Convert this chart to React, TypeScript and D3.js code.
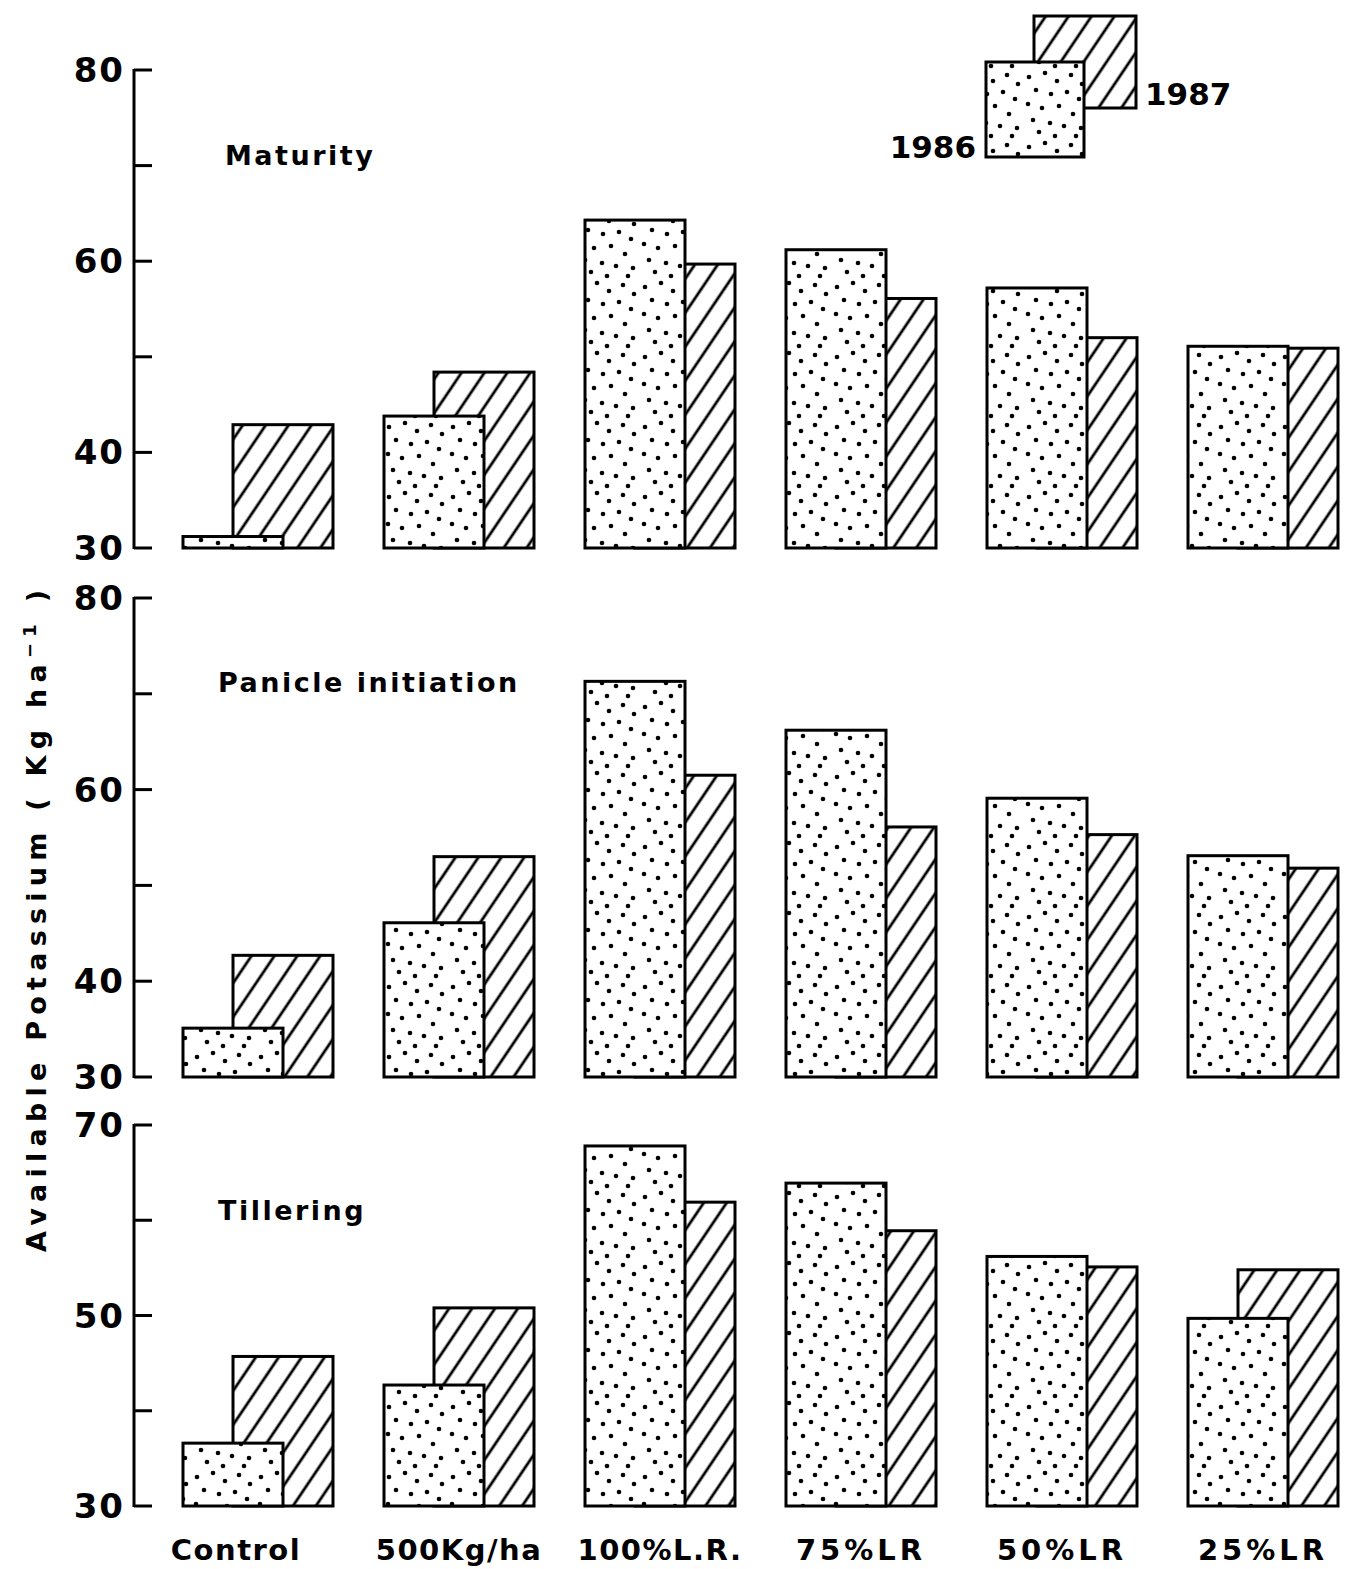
import React from "react";
import * as d3 from "d3";

// categories and values (Kg ha-1)
const categories = ["Control", "500Kg/ha", "100%L.R.", "75%LR", "50%LR", "25%LR"];
const maturity1986 = [31.2, 43.8, 64.3, 61.2, 57.2, 51.1];
const maturity1987 = [42.9, 48.4, 59.7, 56.1, 52.0, 50.9];
const panicle1986 = [35.1, 46.1, 71.3, 66.2, 59.1, 53.1];
const panicle1987 = [42.7, 53.0, 61.5, 56.1, 55.3, 51.8];
const tillering1986 = [36.6, 42.7, 67.8, 63.9, 56.2, 49.7];
const tillering1987 = [45.7, 50.8, 61.9, 58.9, 55.1, 54.8];

const maturityTicks = [30, 40, 50, 60, 70, 80];
const maturityLabels = [30, 40, 60, 80];
const panicleTicks = [30, 40, 50, 60, 70, 80];
const panicleLabels = [30, 40, 60, 80];
const tilleringTicks = [30, 40, 50, 60, 70];
const tilleringLabels = [30, 50, 70];

const years = ["1986", "1987"];

// fixed dot positions inside one texture tile (stipple look)
const dotTile = [
  [5, 7], [21, 3], [33, 11], [47, 5], [58, 14], [12, 20], [27, 24], [43, 22],
  [55, 29], [4, 34], [18, 38], [35, 36], [49, 44], [9, 50], [26, 53], [40, 56],
  [57, 58], [15, 62], [31, 66], [52, 66],
];

const W = 1349;
const H = 1569;
const axisX = 134;
const font = "'DejaVu Sans', Verdana, sans-serif";

const x = d3.scaleBand<string>()
  .domain(categories)
  .range([183, 1338])
  .paddingInner(51 / 201)
  .paddingOuter(0);
const half = x.bandwidth() / 3;
const barW = (x.bandwidth() * 2) / 3;

const panels = [
  { title: "Maturity", titleX: 225, titleY: 165, d86: maturity1986, d87: maturity1987,
    domain: [30, 80], range: [548, 70], ticks: maturityTicks, labels: maturityLabels },
  { title: "Panicle initiation", titleX: 218, titleY: 692, d86: panicle1986, d87: panicle1987,
    domain: [30, 80], range: [1077, 598], ticks: panicleTicks, labels: panicleLabels },
  { title: "Tillering", titleX: 218, titleY: 1220, d86: tillering1986, d87: tillering1987,
    domain: [30, 70], range: [1506, 1125], ticks: tilleringTicks, labels: tilleringLabels },
];

const Panel = ({ p }) => {
  const y = d3.scaleLinear().domain(p.domain).range(p.range);
  const base = y(p.domain[0]);
  return (
    <g>
      {/* axis */}
      <line x1={axisX} x2={axisX} y1={y(p.domain[0]) + 1} y2={y(p.domain[1]) - 1} stroke="black" strokeWidth={3} />
      {p.ticks.map((t) => (
        <line key={t} x1={axisX} x2={axisX + 18} y1={y(t)} y2={y(t)} stroke="black" strokeWidth={3} />
      ))}
      {p.labels.map((t) => (
        <text key={t} x={axisX - 9} y={y(t) + 12} textAnchor="end"
          style={{ fontFamily: font, fontSize: "34px", fontWeight: "bold", letterSpacing: "2px" }}>
          {t}
        </text>
      ))}
      <text x={p.titleX} y={p.titleY}
        style={{ fontFamily: font, fontSize: "27px", fontWeight: "bold", letterSpacing: "2.5px" }}>
        {p.title}
      </text>
      {/* bars: 1987 behind, 1986 in front */}
      {categories.map((c, i) => (
        <g key={c}>
          <rect x={x(c) + half} y={y(p.d87[i])} width={barW} height={base - y(p.d87[i])}
            fill="url(#hatch)" stroke="black" strokeWidth={3} />
          <rect x={x(c)} y={y(p.d86[i])} width={barW} height={base - y(p.d86[i])}
            fill="url(#dots)" stroke="black" strokeWidth={3} />
        </g>
      ))}
    </g>
  );
};

export default function App() {
  return (
    <svg width={W} height={H} viewBox={`0 0 ${W} ${H}`}
      style={{ position: "absolute", left: 0, top: 0, background: "white" }}>
      <defs>
        <pattern id="dots" width={64} height={70} patternUnits="userSpaceOnUse">
          <rect width={64} height={70} fill="white" />
          {dotTile.map(([dx, dy], i) => (
            <circle key={i} cx={dx} cy={dy} r={2.3} fill="black" />
          ))}
        </pattern>
        <pattern id="hatch" width={19} height={20} patternUnits="userSpaceOnUse"
          patternTransform="rotate(34)">
          <rect width={19} height={20} fill="white" />
          <line x1={2} x2={2} y1={0} y2={20} stroke="black" strokeWidth={2.8} />
        </pattern>
      </defs>

      {panels.map((p) => <Panel key={p.title} p={p} />)}

      {/* category labels */}
      {categories.map((c) => (
        <text key={c} x={x(c) + x.bandwidth() / 2 + (c === "Control" ? -22 : 0)} y={1560} textAnchor="middle"
          style={{ fontFamily: font, fontSize: "29px", fontWeight: "bold", letterSpacing: c.length <= 6 ? "4px" : "1.5px" }}>
          {c}
        </text>
      ))}

      {/* y-axis title */}
      <text transform="translate(46,921) rotate(-90)" textAnchor="middle" textLength={662}
        lengthAdjust="spacing"
        style={{ fontFamily: font, fontSize: "27px", fontWeight: "bold" }}>
        Available  Potassium ( Kg  ha<tspan dy={-10} fontSize="18px">−1</tspan><tspan dy={10}> )</tspan>
      </text>

      {/* legend */}
      <rect x={1034} y={16} width={102} height={92} fill="url(#hatch)" stroke="black" strokeWidth={3} />
      <rect x={986} y={62} width={98} height={95} fill="url(#dots)" stroke="black" strokeWidth={3} />
      <text x={1145} y={105} style={{ fontFamily: font, fontSize: "31px", fontWeight: "bold" }}>{years[1]}</text>
      <text x={976} y={158} textAnchor="end" style={{ fontFamily: font, fontSize: "31px", fontWeight: "bold" }}>{years[0]}</text>
    </svg>
  );
}
